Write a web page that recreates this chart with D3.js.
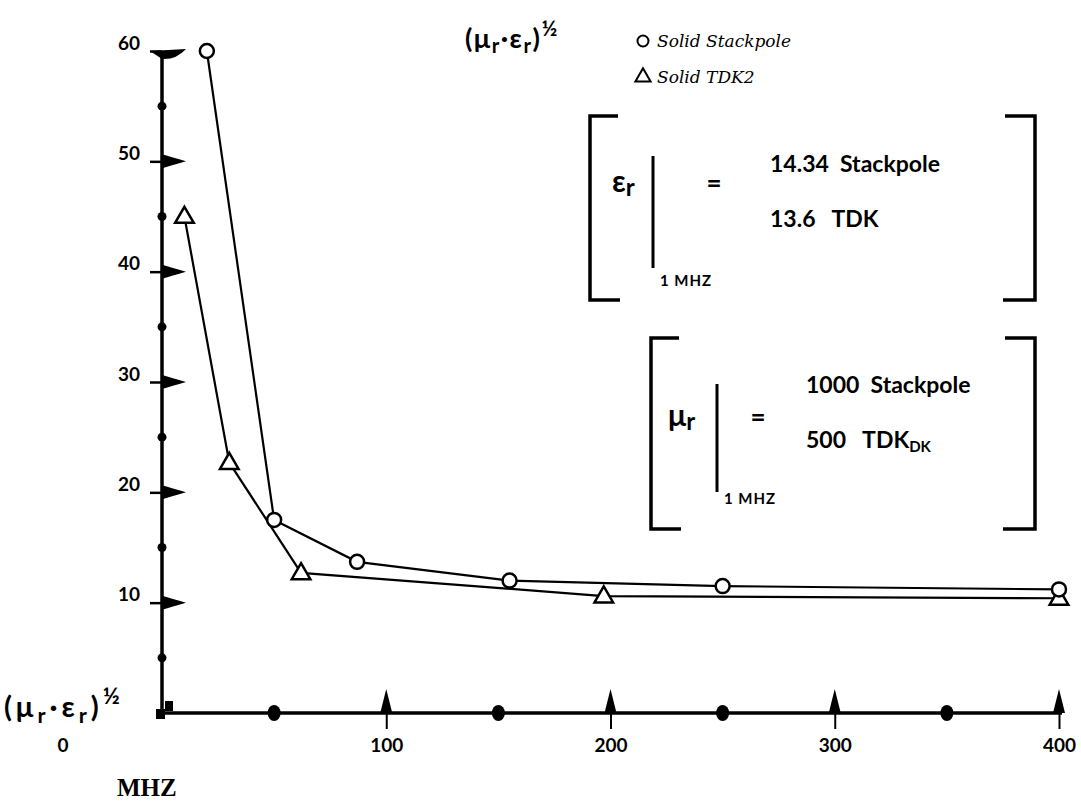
<!DOCTYPE html>
<html>
<head>
<meta charset="utf-8">
<script src="https://cdn.jsdelivr.net/npm/d3@7"></script>
<style>
  body { margin: 0; background: #fff; }
  svg { display: block; }
  text { font-family: "DejaVu Sans", sans-serif; fill: #000; }
  .lbl { font-weight: bold; font-size: 18px; }
  .hand { font-family: "Lato", sans-serif; font-weight: bold; }
</style>
</head>
<body>
<div id="chart"></div>
<script>
// chart values
const stackFreq = [20, 50, 87, 155, 250, 400];
const stackVal = [60, 17.5, 13.7, 12.0, 11.5, 11.2];
const tdkFreq = [10, 30, 62, 197, 400];
const tdkVal = [45, 22.7, 12.7, 10.6, 10.4];

const yMajor = [10, 20, 30, 40, 50, 60];
const yMinor = [5, 15, 25, 35, 45, 55];
const xMajor = [100, 200, 300, 400];
const xMinor = [50, 150, 250, 350];

const legendNames = ['Solid Stackpole', 'Solid TDK2'];
const erValues = ['14.34  Stackpole', '13.6   TDK'];
const murValues = ['1000  Stackpole', '500   TDK'];

let width = 1081, height = 801;

let svg = d3.select('#chart').append('svg')
    .attr('width', width)
    .attr('height', height);

let x = d3.scaleLinear().domain([0, 400]).range([162, 1059]);
let y = d3.scaleLinear().domain([0, 60]).range([713, 51]);

// y axis
let yAxis = svg.append('g')
    .attr('transform', 'translate(' + x(0) + ',0)')
    .call(d3.axisLeft(y).tickValues(yMajor).tickSize(12).tickSizeOuter(0).tickPadding(10));
yAxis.select('.domain').attr('stroke-width', 3.5).attr('d', 'M0,' + y(60) + 'V' + y(0));
yAxis.selectAll('.tick line').attr('stroke-width', 2.5);
yAxis.selectAll('.tick text').attr('class', 'lbl hand').style('font-size', '19px').attr('dy', '-0.1em');

// flags pointing right on the major y ticks
svg.append('g').selectAll('path').data(yMajor).join('path')
    .attr('d', d => {
        let py = y(d), px = x(0);
        if (d === 60) return 'M' + (px - 12) + ',' + py + 'L' + (px + 24) + ',' + (py - 2) + 'Q' + (px + 14) + ',' + (py + 9) + ' ' + px + ',' + (py + 8) + 'Z';
        return 'M' + px + ',' + (py - 7) + 'Q' + (px + 10) + ',' + (py - 4) + ' ' + (px + 24) + ',' + py + 'Q' + (px + 10) + ',' + (py + 4) + ' ' + px + ',' + (py + 7) + 'Z';
    })
    .attr('fill', '#000');

svg.append('g').selectAll('circle').data(yMinor).join('circle')
    .attr('cx', x(0)).attr('cy', d => y(d)).attr('r', 4.5).attr('fill', '#000');

// x axis
let xAxis = svg.append('g')
    .attr('transform', 'translate(0,' + y(0) + ')')
    .call(d3.axisBottom(x).tickValues(xMajor).tickSize(16).tickSizeOuter(0).tickPadding(10));
xAxis.select('.domain').attr('stroke-width', 3.5).attr('d', 'M' + (x(0) - 6) + ',0H' + (x(400) + 3));
xAxis.selectAll('.tick line').attr('stroke-width', 2);
xAxis.selectAll('.tick text').attr('class', 'lbl hand').style('font-size', '19px');

svg.append('g').selectAll('path').data(xMajor).join('path')
    .attr('d', d => {
        let px = x(d), py = y(0);
        return 'M' + (px - 6) + ',' + py + 'L' + px + ',' + (py - 24) + 'L' + (px + 6) + ',' + py + 'Z';
    })
    .attr('fill', '#000');

svg.append('g').selectAll('ellipse').data(xMinor).join('ellipse')
    .attr('cx', d => x(d)).attr('cy', y(0)).attr('rx', 6.5).attr('ry', 8).attr('fill', '#000');

// little squares at the origin
svg.append('rect').attr('x', x(0) - 6).attr('y', y(0) - 4).attr('width', 9).attr('height', 10).attr('fill', '#000');
svg.append('rect').attr('x', x(0) + 3).attr('y', y(0) - 12).attr('width', 8).attr('height', 10).attr('fill', '#000');

svg.append('text').attr('class', 'lbl hand').attr('x', 63).attr('y', 752).attr('text-anchor', 'middle').style('font-size', '19px').text('0');
svg.append('text').attr('x', 117).attr('y', 796).style('font-size', '25px').style('font-weight', 'bold')
    .style('font-family', 'Liberation Serif').text('MHZ');

// data lines
let line = d3.line().x(d => x(d[0])).y(d => y(d[1]));
let stack = d3.zip(stackFreq, stackVal);
let tdk = d3.zip(tdkFreq, tdkVal);

svg.append('path').datum(stack).attr('d', line).attr('fill', 'none').attr('stroke', '#000').attr('stroke-width', 2.2);
svg.append('path').datum(tdk).attr('d', line).attr('fill', 'none').attr('stroke', '#000').attr('stroke-width', 2.2);

let tri = d3.symbol().type(d3.symbolTriangle).size(150);

svg.append('g').selectAll('path').data(tdk).join('path')
    .attr('transform', d => 'translate(' + x(d[0]) + ',' + (y(d[1]) + 1) + ')')
    .attr('d', tri).attr('fill', '#fff').attr('stroke', '#000').attr('stroke-width', 2.5);

svg.append('g').selectAll('circle').data(stack).join('circle')
    .attr('cx', d => x(d[0])).attr('cy', d => y(d[1])).attr('r', 7)
    .attr('fill', '#fff').attr('stroke', '#000').attr('stroke-width', 2.5);

// (mu_r . eps_r)^1/2 labels
function muEps(g, px, py, size, spacing) {
    let t = g.append('text').attr('class', 'hand').attr('x', px).attr('y', py)
        .style('font-size', size + 'px').style('letter-spacing', spacing + 'px');
    t.append('tspan').text('(μ');
    t.append('tspan').attr('dy', size * 0.2).style('font-size', (size * 0.75) + 'px').text('r');
    t.append('tspan').attr('dy', -size * 0.2).text('·ε');
    t.append('tspan').attr('dy', size * 0.2).style('font-size', (size * 0.75) + 'px').text('r');
    t.append('tspan').attr('dy', -size * 0.2).text(')');
    t.append('tspan').attr('dy', -size * 0.45).style('font-size', (size * 0.8) + 'px').text('½');
    return t;
}
muEps(svg, 465, 48, 27, 1.5);
muEps(svg, 4, 717, 29, 4);

// legend
svg.append('circle').attr('cx', 643).attr('cy', 41).attr('r', 5.5).attr('fill', '#fff').attr('stroke', '#000').attr('stroke-width', 2);
svg.append('path').attr('transform', 'translate(643,77)').attr('d', d3.symbol().type(d3.symbolTriangle).size(100))
    .attr('fill', '#fff').attr('stroke', '#000').attr('stroke-width', 2);
svg.append('g').selectAll('text').data(legendNames).join('text')
    .attr('x', 657).attr('y', (d, i) => 47 + i * 36)
    .style('font-size', '17px').style('font-style', 'italic').style('font-family', 'DejaVu Serif')
    .text(d => d);

// bracket boxes
function bracketBox(left, right, top, bottom) {
    let g = svg.append('g').attr('fill', 'none').attr('stroke', '#000').attr('stroke-width', 3.5);
    g.append('path').attr('d', 'M' + (left + 28) + ',' + top + 'H' + left + 'V' + bottom + 'H' + (left + 30));
    g.append('path').attr('d', 'M' + (right - 30) + ',' + top + 'H' + right + 'V' + bottom + 'H' + (right - 32));
}

bracketBox(590, 1035, 116, 300);
bracketBox(651, 1035, 338, 529);

function symbolBlock(sym, sx, sy, barX, barTop, barBot, mhzY, eqX, vals, valX, valY) {
    let t = svg.append('text').attr('class', 'hand').attr('x', sx).attr('y', sy).style('font-size', '30px');
    t.append('tspan').text(sym);
    t.append('tspan').attr('dy', 4).style('font-size', '24px').text('r');
    svg.append('line').attr('x1', barX).attr('x2', barX).attr('y1', barTop).attr('y2', barBot)
        .attr('stroke', '#000').attr('stroke-width', 3);
    svg.append('text').attr('class', 'hand').attr('x', barX + 7).attr('y', mhzY)
        .style('font-size', '15px').style('letter-spacing', '1px').text('1 MHZ');
    svg.append('text').attr('class', 'hand').attr('x', eqX).attr('y', sy).attr('text-anchor', 'middle').style('font-size', '26px').text('=');
    return svg.append('g').selectAll('text').data(vals).join('text')
        .attr('class', 'hand')
        .attr('x', valX).attr('y', (d, i) => valY[i])
        .style('font-size', '23px').style('white-space', 'pre')
        .text(d => d);
}

symbolBlock('ε', 612, 192, 653, 156, 268, 286, 714, erValues, 770, [172, 227]);
let murText = symbolBlock('μ', 668, 426, 717, 384, 492, 504, 758, murValues, 806, [393, 448]);

// DK subscript right after TDK
murText.filter((d, i) => i === 1).append('tspan')
    .attr('dy', 4).style('font-size', '15px').text('DK');
</script>
</body>
</html>
